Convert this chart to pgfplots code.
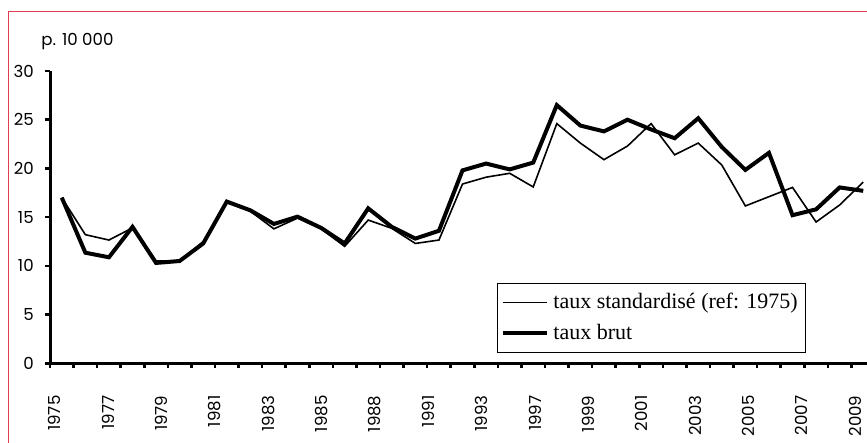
\documentclass[border=0pt]{standalone}
\usepackage{fontspec}
\usepackage{pgfplots}
\pgfplotsset{compat=1.18}
\setmainfont{Liberation Serif}
\newfontfamily\gothic{Poppins}
\definecolor{framered}{RGB}{222,60,80}
\pgfplotstableread{
x std brut
0 17.0 17.0
1 13.2 11.35
2 12.65 10.88
3 13.9 14.0
4 10.5 10.3
5 10.5 10.5
6 12.5 12.3
7 16.5 16.6
8 15.6 15.7
9 13.8 14.3
10 14.9 15.05
11 13.8 13.9
12 12.0 12.3
13 14.7 15.9
14 13.85 14.0
15 12.3 12.8
16 12.65 13.6
17 18.4 19.8
18 19.1 20.5
19 19.5 19.9
20 18.1 20.6
21 24.6 26.5
22 22.6 24.4
23 20.9 23.8
24 22.3 25.0
25 24.6 24.0
26 21.4 23.1
27 22.6 25.15
28 20.35 22.2
29 16.15 19.85
30 17.1 21.6
31 18.05 15.2
32 14.5 15.8
33 16.25 18.05
34 18.6 17.7
}\datatable
\begin{document}
\begin{tikzpicture}
\useasboundingbox (0,0) rectangle (433.5pt,221.5pt);
\draw[framered, line width=0.6pt] (4.15pt,-5pt) -- (4.15pt,215.65pt) -- (440pt,215.65pt);
\node[anchor=west, inner sep=0pt, font=\gothic\fontsize{8.3}{10}\selectfont] at (20.5pt,200.5pt) {p. 10 000};
\begin{axis}[
  at={(25pt,39.85pt)}, anchor=south west,
  scale only axis, width=408.5pt, height=146.15pt,
  xmin=-0.5, xmax=34.16, ymin=0, ymax=30,
  axis lines*=left,
  axis line style={line width=1.5pt},
  ytick={0,5,...,30},
  xtick={-0.42,1.846,4.109,6.372,8.635,10.898,13.161,15.424,17.687,19.95,22.213,24.476,26.739,29.002,31.265,33.528},
  xticklabels={1975,1977,1979,1981,1983,1985,1988,1991,1993,1997,1999,2001,2003,2005,2007,2009},
  minor xtick={-0.5,0.5,...,34.5},
  tick align=outside,
  major tick length=2.6pt, minor tick length=2.6pt,
  tick style={line width=1.3pt, black},
  major x tick style={draw=none},
  /pgf/number format/assume math mode=true,
  tick label style={font=\gothic\fontsize{8.3}{10}\selectfont},
  xticklabel style={rotate=90, anchor=east, xshift=-10pt, yshift=-1.5pt},
  yticklabel style={xshift=-2pt},
  legend style={at={(0.547,0.275)}, anchor=north west, draw=black, line width=0.5pt,
     font=\fontsize{11}{13}\selectfont, row sep=2pt, inner xsep=2pt, inner ysep=3pt},
  legend cell align=left,
  legend image code/.code={\draw[#1] (0pt,0pt) -- (22pt,0pt);},
]
\addplot[black, line width=0.8pt] table[x=x, y=std] {\datatable};
\addplot[black, line width=2pt] table[x=x, y=brut] {\datatable};
\legend{\makebox[122pt][l]{taux standardisé (ref: 1975)}, \makebox[122pt][l]{taux brut}}
\end{axis}
\end{tikzpicture}
\end{document}
